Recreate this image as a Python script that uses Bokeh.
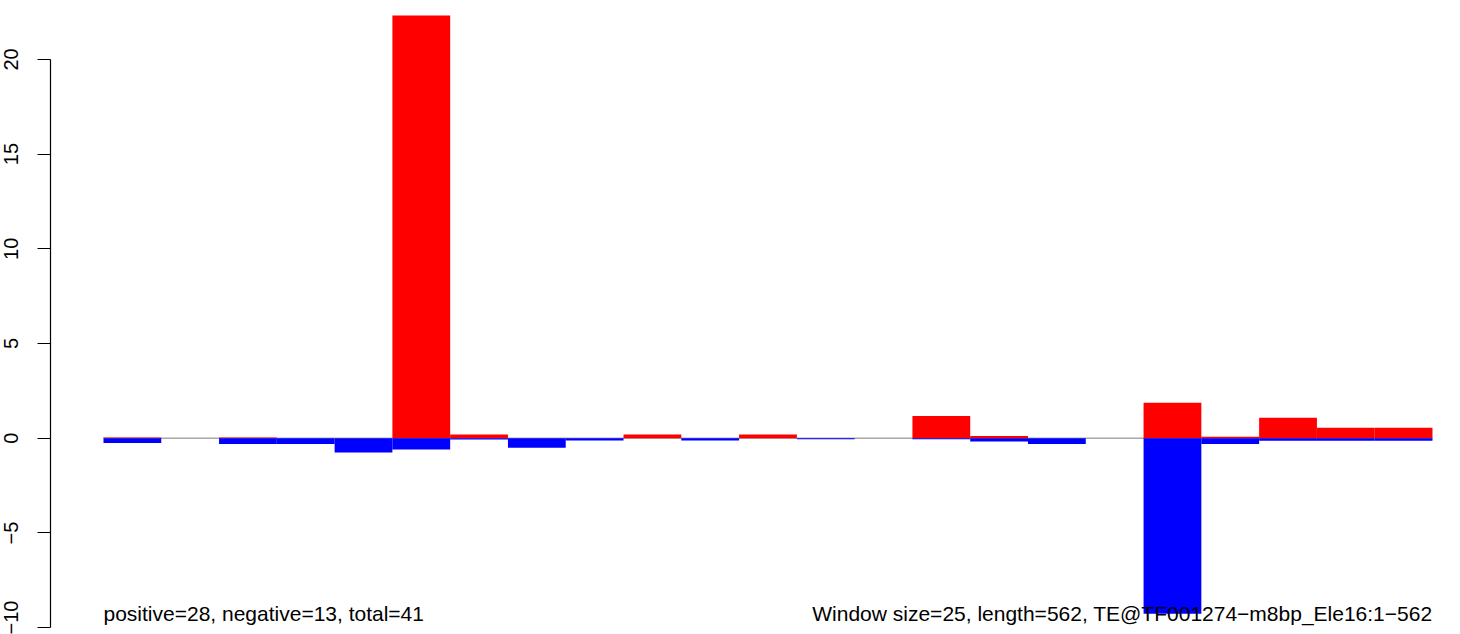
from bokeh.plotting import figure
from bokeh.models import Range1d, FixedTicker, ColumnDataSource
from bokeh.core.properties import value
from bokeh.embed import file_html
from bokeh.resources import INLINE

# window index (25 bp windows over 562 bp)
windows = list(range(23))
positive = [0.04, 0, 0.04, 0, 0, 22.32, 0.2, 0, 0, 0.2, 0, 0.2, 0, 0,
            1.18, 0.12, 0, 0, 1.88, 0.08, 1.08, 0.55, 0.55]
negative = [-0.25, 0, -0.3, -0.3, -0.75, -0.6, -0.07, -0.5, -0.12, 0, -0.12, 0, -0.05, 0,
            -0.05, -0.17, -0.3, 0, -9.26, -0.3, -0.13, -0.13, -0.13]
y_ticks = [-10, -5, 0, 5, 10, 15, 20]
left_label = "positive=28, negative=13, total=41"
right_label = "Window size=25, length=562, TE@TF001274\u2212m8bp_Ele16:1\u2212562"

FONT = "Liberation Sans"

p = figure(width=1460, height=634, output_backend="svg", toolbar_location=None,
           x_axis_type=None, x_range=Range1d(-0.917, 23.485), y_range=Range1d(-10.36, 23.11),
           min_border_left=50, min_border_right=0, min_border_top=0, min_border_bottom=0)
p.outline_line_color = None
p.grid.visible = False
p.background_fill_color = "white"
p.border_fill_color = "white"

# zero line
p.segment(x0=[windows[0]], y0=[0], x1=[windows[-1] + 1], y1=[0], line_color="#a8a8a8", line_width=1.6)

src = ColumnDataSource(dict(left=windows, right=[w + 1 for w in windows], pos=positive, neg=negative,
                            zero=[0] * len(windows)))
p.quad(left="left", right="right", bottom="zero", top="pos", source=src,
       fill_color="#ff0000", line_color=None)
p.quad(left="left", right="right", bottom="neg", top="zero", source=src,
       fill_color="#0000ff", line_color=None)

base_y = min(negative)
p.text(x=[windows[0]], y=[base_y], text=[left_label], text_align="left", text_baseline="alphabetic",
       text_font=value(FONT), text_font_size="21px", text_color="black")
p.text(x=[windows[-1] + 1], y=[base_y], text=[right_label], text_align="right", text_baseline="alphabetic",
       text_font=value(FONT), text_font_size="21px", text_color="black")

ax = p.yaxis[0]
ax.ticker = FixedTicker(ticks=y_ticks)
ax.bounds = (min(y_ticks), max(y_ticks))
ax.minor_tick_line_color = None
ax.major_tick_in = 0
ax.major_tick_out = 13
ax.major_label_orientation = "vertical"
ax.major_label_standoff = 19
ax.major_label_text_font = FONT
ax.major_label_text_font_size = "20px"
ax.major_label_text_color = "black"
ax.axis_line_color = "black"
ax.major_tick_line_color = "black"
ax.axis_line_width = 1.2
ax.major_tick_line_width = 1.2

open("out.html", "w").write(file_html(p, INLINE))
